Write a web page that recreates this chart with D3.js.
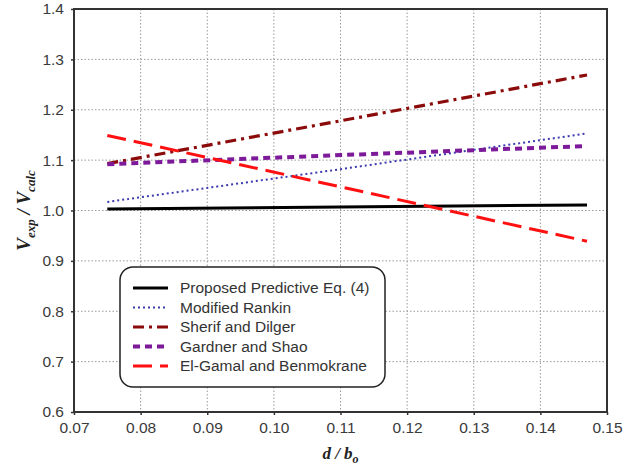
<!DOCTYPE html>
<html>
<head>
<meta charset="utf-8">
<script src="https://cdn.jsdelivr.net/npm/d3@7"></script>
<style>
body { margin: 0; background: #fff; }
.tick text { font-family: "Liberation Sans", Arial, sans-serif; font-size: 15.5px; fill: #3a3a3a; }
.grid line { stroke: #999; stroke-dasharray: 1.5,2; }
.legend text { font-family: "Liberation Sans", Arial, sans-serif; font-size: 15.5px; fill: #333; }
.title { font-family: "Liberation Serif", "Times New Roman", serif; font-weight: bold; font-style: italic; fill: #222; }
</style>
</head>
<body>
<svg id="chart" width="639" height="469"></svg>
<script>
var xValues = [0.075, 0.11, 0.147];
var proposed = [1.003, 1.007, 1.011];
var rankin = [1.017, 1.082, 1.153];
var sherif = [1.093, 1.178, 1.269];
var gardner = [1.092, 1.110, 1.128];
var elGamal = [1.149, 1.047, 0.939];
var seriesNames = ["Proposed Predictive Eq. (4)", "Modified Rankin", "Sherif and Dilger", "Gardner and Shao", "El-Gamal and Benmokrane"];
var xTicks = [0.07, 0.08, 0.09, 0.10, 0.11, 0.12, 0.13, 0.14, 0.15];
var yTicks = [0.6, 0.7, 0.8, 0.9, 1.0, 1.1, 1.2, 1.3, 1.4];

function drawChart() {
    var margin = {top: 9, right: 32, bottom: 57, left: 74},
        width = 639 - margin.left - margin.right,
        height = 469 - margin.top - margin.bottom;

    var x = d3.scaleLinear().domain([0.07, 0.15]).range([0, width]);
    var y = d3.scaleLinear().domain([0.6, 1.4]).range([height, 0]);

    var svg = d3.select("#chart");
    var graph = svg.append("g")
        .attr("transform", "translate(" + margin.left + "," + margin.top + ")");

    // grid
    graph.append("g").attr("class", "grid")
        .selectAll("line").data(xTicks.slice(1, -1)).enter().append("line")
        .attr("x1", function(d) { return x(d); }).attr("x2", function(d) { return x(d); })
        .attr("y1", 0).attr("y2", height);
    graph.append("g").attr("class", "grid")
        .selectAll("line").data(yTicks.slice(1, -1)).enter().append("line")
        .attr("y1", function(d) { return y(d); }).attr("y2", function(d) { return y(d); })
        .attr("x1", 0).attr("x2", width);

    // axes
    var xAxis = graph.append("g")
        .attr("transform", "translate(0," + height + ")")
        .call(d3.axisBottom(x).tickValues(xTicks).tickFormat(d3.format(".2f")).tickSize(3).tickPadding(7));
    var yAxis = graph.append("g")
        .call(d3.axisLeft(y).tickValues(yTicks).tickFormat(d3.format(".1f")).tickSize(3).tickPadding(7));
    xAxis.select(".domain").remove();
    yAxis.select(".domain").remove();
    graph.selectAll(".tick line").attr("stroke", "#333").attr("stroke-width", 1.5);

    // frame
    graph.append("rect")
        .attr("width", width).attr("height", height)
        .attr("fill", "none").attr("stroke", "#333").attr("stroke-width", 2);

    var series = [
        {name: seriesNames[0], values: proposed, color: "#000000", dash: null, w: 3},
        {name: seriesNames[1], values: rankin, color: "#3b3bb0", dash: "2,3", w: 2},
        {name: seriesNames[2], values: sherif, color: "#8b0a0a", dash: "11,5,3,5", w: 3.2},
        {name: seriesNames[3], values: gardner, color: "#7d1a9a", dash: "7,5", w: 4},
        {name: seriesNames[4], values: elGamal, color: "#ff1010", dash: "19,8", w: 3}
    ];

    var line = d3.line()
        .x(function(d) { return x(d[0]); })
        .y(function(d) { return y(d[1]); });

    series.forEach(function(s) {
        graph.append("path")
            .datum(xValues.map(function(v, i) { return [v, s.values[i]]; }))
            .attr("fill", "none")
            .attr("stroke", s.color)
            .attr("stroke-width", s.w)
            .attr("stroke-dasharray", s.dash)
            .attr("d", line);
    });

    // legend
    var legend = svg.append("g").attr("class", "legend");
    legend.append("rect")
        .attr("x", 120).attr("y", 267).attr("width", 265).attr("height", 120)
        .attr("rx", 13).attr("fill", "#fff").attr("stroke", "#222").attr("stroke-width", 1.5);
    series.forEach(function(s, i) {
        var ly = 288 + i * 19.5;
        legend.append("line")
            .attr("x1", 133).attr("x2", 168).attr("y1", ly).attr("y2", ly)
            .attr("stroke", s.color).attr("stroke-width", s.w)
            .attr("stroke-dasharray", s.dash);
        legend.append("text")
            .attr("x", 180).attr("y", ly).attr("dy", "0.35em")
            .text(s.name);
    });

    // axis titles
    var xt = svg.append("text").attr("class", "title")
        .attr("x", margin.left + width / 2).attr("y", 459)
        .attr("text-anchor", "middle").style("font-size", "17px");
    xt.append("tspan").text("d / b");
    xt.append("tspan").attr("dy", 4).style("font-size", "12px").text("o");

    var yt = svg.append("text").attr("class", "title")
        .attr("transform", "translate(30," + (margin.top + height / 2) + ") rotate(-90)")
        .attr("text-anchor", "middle").style("font-size", "19px");
    yt.append("tspan").text("V");
    yt.append("tspan").attr("dy", 5).style("font-size", "13px").text("exp");
    yt.append("tspan").attr("dy", -5).text(" / V");
    yt.append("tspan").attr("dy", 5).style("font-size", "13px").text("calc");
}

drawChart();
</script>
</body>
</html>
